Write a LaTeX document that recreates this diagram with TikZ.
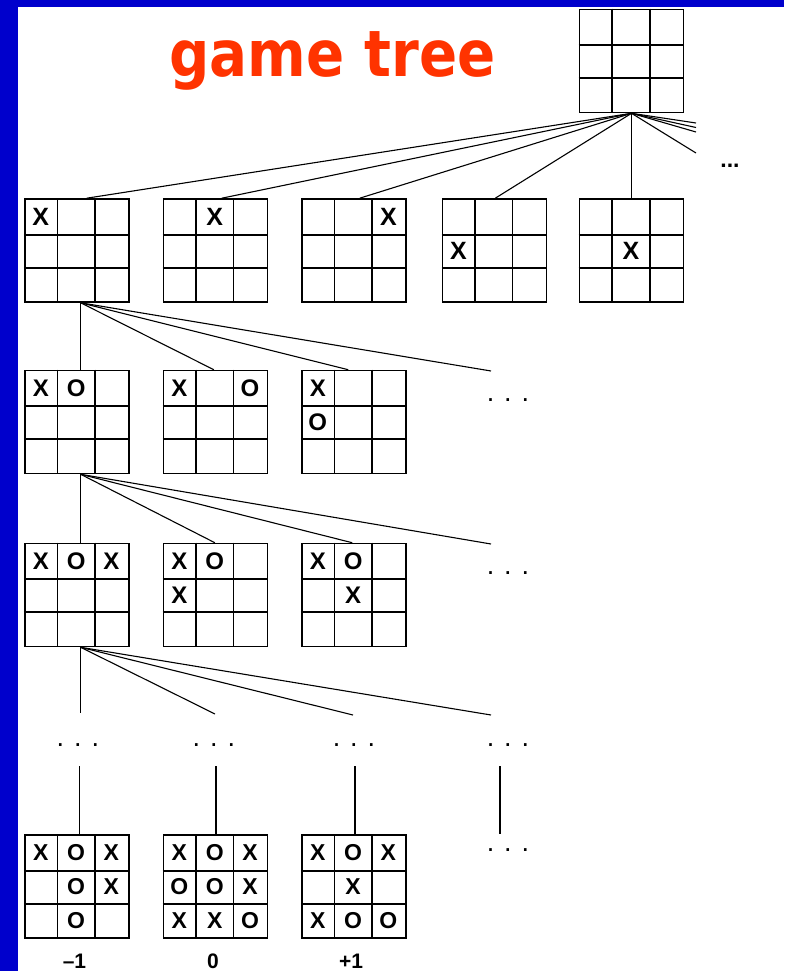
\documentclass[tikz,border=0pt]{standalone}
\usepackage{fontspec}
\setmainfont{Liberation Sans}
\newfontfamily\titlefont[FakeStretch=0.88]{DejaVu Sans}
\usepackage{xcolor}
\usepackage{tikz}
\usetikzlibrary{calc}

\definecolor{slideblue}{HTML}{0000CC}
\definecolor{titlered}{HTML}{FF3300}

\newcommand{\marksize}{22}
\tikzset{
  board/.style={draw,line width=1.6pt,minimum width=104pt,minimum height=103pt,
                inner sep=0pt},
  gridline/.style={line width=1.6pt},
  cellmark/.style={font=\bfseries\fontsize{\marksize}{\marksize}\selectfont,
                   inner sep=0pt},
  edge/.style={line width=1.1pt},
  ellip/.style={font=\fontsize{27}{27}\selectfont,inner sep=0pt},
  heading/.style={font=\titlefont\bfseries\fontsize{64}{64}\selectfont,
                  text=titlered,anchor=base},
  score/.style={font=\bfseries\fontsize{21}{21}\selectfont,anchor=base}
}

% empty 3x3 board as a named node
\newcommand{\boardgrid}[2]{%
  \node[board] (#1) at (#2) {};
  \begin{scope}[shift={(#1.north west)}]
    \draw[gridline] (33.5,0) -- (33.5,103) (71,0) -- (71,103)
                    (0,36.5) -- (104,36.5) (0,69.5) -- (104,69.5);
  \end{scope}}
% board with marks given as col/row/mark
\newcommand{\board}[3]{%
  \boardgrid{#1}{#2}
  \begin{scope}[shift={(#1.north west)}]
    \foreach \c/\r/\m in {#3}
      \node[cellmark] (#1\c\r) at (16.9+35.3*\c,18.5+34*\r) {\m};
  \end{scope}}

\begin{document}
\begin{tikzpicture}[x=1pt,y=-1pt]
  \useasboundingbox (0,0) rectangle (784,971);
  \fill[slideblue] (0,0) rectangle (784,971);
  \fill[white] (18,7) rectangle (784,971);

  \node[heading] (title) at (332.5,77) {game tree};

  \boardgrid{root}{631.5,61}
  \renewcommand{\marksize}{25}
  \board{m1a}{76.7,250.5}{0/0/X}
  \board{m1b}{215.3,250.5}{1/0/X}
  \board{m1c}{353.7,250.5}{2/0/X}
  \board{m1d}{494.3,250.5}{0/1/X}
  \board{m1e}{631.5,250.5}{1/1/X}

  \renewcommand{\marksize}{24}
  \board{m2a}{76.7,422}{0/0/X,1/0/O}
  \board{m2b}{215.3,422}{0/0/X,2/0/O}
  \board{m2c}{353.7,422}{0/0/X,0/1/O}

  \board{m3a}{76.7,595}{0/0/X,1/0/O,2/0/X}
  \board{m3b}{215.3,595}{0/0/X,1/0/O,0/1/X}
  \board{m3c}{353.7,595}{0/0/X,1/0/O,1/1/X}

  \renewcommand{\marksize}{23}
  \board{endA}{76.7,886.5}{0/0/X,1/0/O,2/0/X,1/1/O,2/1/X,1/2/O}
  \board{endB}{215.3,886.5}{0/0/X,1/0/O,2/0/X,0/1/O,1/1/O,2/1/X,0/2/X,1/2/X,2/2/O}
  \board{endC}{353.7,886.5}{0/0/X,1/0/O,2/0/X,1/1/X,0/2/X,1/2/O,2/2/O}

  \node[font=\bfseries\fontsize{23}{23}\selectfont,inner sep=0pt] (more) at (730,166) {...};
  \node[ellip] (d2) at (508,400) {. . .};
  \node[ellip] (d3) at (508,573) {. . .};
  \node[ellip] (d4a) at (78,745) {. . .};
  \node[ellip] (d4b) at (214,745) {. . .};
  \node[ellip] (d4c) at (354,745) {. . .};
  \node[ellip] (d4d) at (508,745) {. . .};
  \node[ellip] (d5) at (508,850) {. . .};

  \node[score] (sA) at (74.5,968.5) {\textendash1};
  \node[score] (sB) at (213,968.5) {0};
  \node[score] (sC) at (351,968.5) {+1};

  \coordinate (oA) at (696,123);
  \coordinate (oB) at (696,127.5);
  \coordinate (oC) at (696,132);
  \coordinate (oD) at (696,153);
  \coordinate (e2) at (491,371);
  \coordinate (e3) at (491,544);
  \coordinate (f1) at (80.7,713);
  \coordinate (f2) at (215,714);
  \coordinate (f3) at (353,715);
  \coordinate (f4) at (491,715);
  \coordinate (g1) at (79.2,766);
  \coordinate (g2) at (216,766);
  \coordinate (g3) at (355,766);
  \coordinate (g4) at (500,766);
  \coordinate (g5) at (500,834);

  \draw[edge] (root.south) -- ([xshift=10pt]m1a.north);
  \draw[edge] (root.south) -- ([xshift=6.5pt]m1b.north);
  \draw[edge] (root.south) -- ([xshift=6pt]m1c.north);
  \draw[edge] (root.south) -- ([xshift=1pt]m1d.north);
  \draw[edge] (root.south) -- (m1e.north);
  \draw[edge] (root.south) -- (oA);
  \draw[edge] (root.south) -- (oB);
  \draw[edge] (root.south) -- (oC);
  \draw[edge] (root.south) -- (oD);

  \draw[edge] ([xshift=4pt]m1a.south) -- ([xshift=4pt]m2a.north);
  \draw[edge] ([xshift=4pt]m1a.south) -- ([xshift=-1.5pt]m2b.north);
  \draw[edge] ([xshift=4pt]m1a.south) -- ([xshift=-5.5pt]m2c.north);
  \draw[edge] ([xshift=4pt]m1a.south) -- (e2);

  \draw[edge] ([xshift=4pt]m2a.south) -- ([xshift=4pt]m3a.north);
  \draw[edge] ([xshift=4pt]m2a.south) -- ([xshift=-0.5pt]m3b.north);
  \draw[edge] ([xshift=4pt]m2a.south) -- ([xshift=-1.5pt]m3c.north);
  \draw[edge] ([xshift=4pt]m2a.south) -- (e3);

  \draw[edge] ([xshift=4pt]m3a.south) -- (f1);
  \draw[edge] ([xshift=4pt]m3a.south) -- (f2);
  \draw[edge] ([xshift=4pt]m3a.south) -- (f3);
  \draw[edge] ([xshift=4pt]m3a.south) -- (f4);

  \draw[edge] (g1) -- ([xshift=2.5pt]endA.north);
  \draw[edge] (g2) -- ([xshift=0.7pt]endB.north);
  \draw[edge] (g3) -- ([xshift=1.3pt]endC.north);
  \draw[edge] (g4) -- (g5);
\end{tikzpicture}
\end{document}
